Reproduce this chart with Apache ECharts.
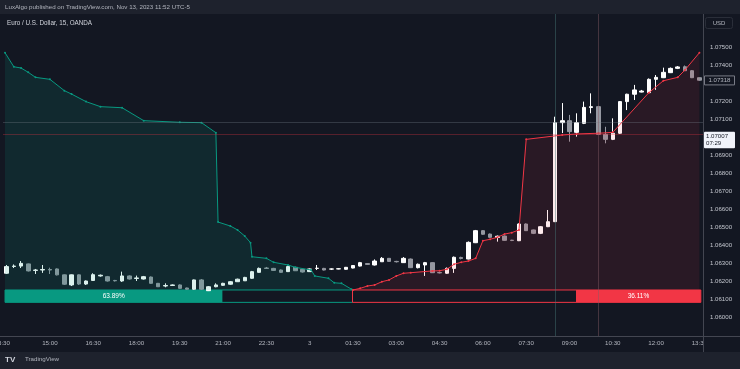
<!DOCTYPE html>
<html><head><meta charset="utf-8">
<script src="https://cdn.jsdelivr.net/npm/echarts@6/dist/echarts.min.js"></script>
<style>html,body{margin:0;padding:0;background:#1e222d;}#c{width:740px;height:369px;}</style>
</head><body><div id="c"></div>
<script>
// ---- data ----
const tickLabels = ['15:00','16:30','18:00','19:30','21:00','22:30','3','01:30','03:00','04:30','06:00','07:30','09:00','10:30','12:00','13:30'];
const priceTicks = [1.060,1.061,1.062,1.063,1.064,1.065,1.066,1.067,1.068,1.069,1.070,1.071,1.072,1.073,1.074,1.075];
// [open, close, low, high]
const candles = [
[1.06245,1.06282,1.06241,1.06291],[1.06283,1.06285,1.06274,1.06294],[1.06285,1.06300,1.06274,1.06313],[1.06297,1.06258,1.06255,1.06299],
[1.06261,1.06263,1.06241,1.06269],[1.06263,1.06266,1.06247,1.06291],[1.06266,1.06263,1.06241,1.06276],[1.06269,1.06236,1.06233,1.06272],
[1.06236,1.06184,1.06180,1.06238],[1.06180,1.06236,1.06174,1.06238],[1.06236,1.06185,1.06180,1.06238],[1.06185,1.06202,1.06180,1.06205],
[1.06205,1.06237,1.06202,1.06245],[1.06230,1.06234,1.06226,1.06238],[1.06226,1.06202,1.06199,1.06230],[1.06205,1.06203,1.06199,1.06208],
[1.06202,1.06230,1.06197,1.06254],[1.06230,1.06213,1.06210,1.06233],[1.06216,1.06219,1.06202,1.06232],[1.06213,1.06226,1.06210,1.06230],
[1.06224,1.06189,1.06187,1.06227],[1.06189,1.06170,1.06169,1.06191],[1.06174,1.06177,1.06167,1.06189],[1.06177,1.06180,1.06174,1.06183],
[1.06180,1.06161,1.06159,1.06183],[1.06163,1.06156,1.06153,1.06165],[1.06156,1.06208,1.06152,1.06210],[1.06208,1.06156,1.06152,1.06213],
[1.06148,1.06170,1.06146,1.06174],[1.06170,1.06180,1.06167,1.06189],[1.06178,1.06189,1.06175,1.06192],[1.06184,1.06198,1.06181,1.06202],
[1.06198,1.06212,1.06197,1.06215],[1.06203,1.06222,1.06202,1.06225],[1.06217,1.06254,1.06214,1.06258],[1.06250,1.06272,1.06248,1.06277],
[1.06274,1.06272,1.06269,1.06280],[1.06272,1.06261,1.06258,1.06275],[1.06263,1.06250,1.06248,1.06266],[1.06254,1.06282,1.06252,1.06288],
[1.06278,1.06259,1.06258,1.06280],[1.06267,1.06252,1.06249,1.06269],[1.06254,1.06269,1.06252,1.06272],[1.06272,1.06273,1.06263,1.06291],
[1.06272,1.06263,1.06261,1.06275],[1.06268,1.06269,1.06263,1.06272],[1.06269,1.06270,1.06267,1.06274],[1.06267,1.06278,1.06265,1.06280],
[1.06274,1.06288,1.06272,1.06291],[1.06285,1.06304,1.06283,1.06308],[1.06299,1.06294,1.06291,1.06302],[1.06291,1.06313,1.06288,1.06322],
[1.06309,1.06328,1.06308,1.06335],[1.06328,1.06311,1.06309,1.06330],[1.06311,1.06309,1.06305,1.06314],[1.06304,1.06328,1.06302,1.06335],
[1.06324,1.06276,1.06274,1.06327],[1.06276,1.06295,1.06272,1.06299],[1.06291,1.06304,1.06230,1.06308],[1.06304,1.06248,1.06247,1.06306],
[1.06249,1.06247,1.06244,1.06252],[1.06245,1.06272,1.06242,1.06277],[1.06272,1.06334,1.06247,1.06338],[1.06333,1.06327,1.06322,1.06337],
[1.06324,1.06417,1.06322,1.06422],[1.06415,1.06482,1.06413,1.06486],[1.06482,1.06462,1.06459,1.06485],[1.06463,1.06445,1.06442,1.06466],
[1.06444,1.06451,1.06421,1.06455],[1.06452,1.06428,1.06426,1.06455],[1.06429,1.06427,1.06424,1.06431],[1.06426,1.06519,1.06424,1.06522],
[1.06519,1.06482,1.06480,1.06522],[1.06486,1.06467,1.06463,1.06488],[1.06467,1.06504,1.06463,1.06508],[1.06504,1.06532,1.06502,1.06597],
[1.06532,1.07083,1.06530,1.07116],[1.07083,1.07094,1.07025,1.07192],[1.07094,1.07033,1.06977,1.07126],[1.07029,1.07083,1.07005,1.07135],
[1.07079,1.07168,1.07075,1.07200],[1.07167,1.07172,1.07135,1.07246],[1.07172,1.07018,1.07014,1.07176],[1.07018,1.06990,1.06968,1.07060],
[1.06990,1.07024,1.06986,1.07107],[1.07024,1.07200,1.07020,1.07203],[1.07200,1.07241,1.07153,1.07244],[1.07241,1.07265,1.07209,1.07293],
[1.07253,1.07259,1.07251,1.07265],[1.07250,1.07324,1.07248,1.07329],[1.07324,1.07335,1.07265,1.07348],[1.07333,1.07363,1.07331,1.07389],
[1.07361,1.07385,1.07359,1.07390],[1.07385,1.07393,1.07381,1.07398],[1.07394,1.07372,1.07370,1.07401],[1.07372,1.07333,1.07331,1.07376],
[1.07333,1.07319,1.07316,1.07334]
];
// [bar index, price]
const bullLine = [
[-0.22,1.07472],[1,1.07394],[2,1.07387],[3,1.07363],[4,1.07335],[6,1.07324],[8,1.07261],[9,1.07242],[11,1.07200],[13,1.07172],
[16,1.07166],[19,1.07094],[24,1.07085],[27,1.07083],[29,1.07027],[29.3,1.06530],[31,1.06508],[32,1.06486],[33,1.06452],[33.8,1.06415],
[34,1.06337],[36,1.06328],[37,1.06306],[39,1.06291],[40,1.06278],[42.2,1.06263],[42.7,1.06230],[44.6,1.06217],[45.4,1.06192],[46.4,1.06189],[47.8,1.06156]
];
const bearLine = [
[48,1.06152],[49,1.06161],[50,1.06174],[51,1.06180],[52,1.06198],[53,1.06208],[54,1.06230],[55,1.06245],[56,1.06248],[59,1.06258],
[60,1.06259],[61,1.06267],[62,1.06295],[63,1.06306],[64,1.06313],[65,1.06328],[66,1.06426],[67,1.06434],[68,1.06445],[69,1.06463],
[70,1.06471],[71,1.06486],[72,1.06990],[77,1.07014],[79,1.07020],[82,1.07024],[84,1.07029],[89,1.07250],[91,1.07316],[93,1.07335],
[94,1.07376],[96,1.07472]
];
const zoneTop = 1.06152, zoneBottom = 1.06083;
const bullBox = [-0.22, 47.93], bullFillEnd = 29.9, bullPct = '63.89%';
const bearBox = [47.93, 96.2], bearFillStart = 78.9, bearPct = '36.11%';
const hLines = {grey: 1.07087, red: 1.07018};
const vLines = [76, 82.05];
const lastPrice = 1.07318, markPrice = 1.07007, countdown = '07:29';

const FONT = 'Liberation Sans';
const BG = '#131722';
const chart = echarts.init(document.getElementById('c'));
const idx = candles.map((_, i) => String(i));

chart.setOption({
  animation: false,
  backgroundColor: '#1e222d',
  textStyle: {fontFamily: FONT},
  grid: {left: 3, right: 37, top: 14, bottom: 33, containLabel: false, outerBoundsMode: 'none'},
  xAxis: [{
    type: 'category', data: idx, boundaryGap: true, gridIndex: 0,
    axisLine: {show: false}, axisTick: {show: false}, splitLine: {show: false},
    axisLabel: {
      interval: (i) => i > 0 && i % 6 === 0,
      formatter: (v, i) => tickLabels[i / 6 - 1] || '',
      color: '#b2b5be', fontSize: 6.2, margin: 4
    }
  }, {
    type: 'value', min: -0.5, max: candles.length - 0.5, show: false, gridIndex: 0
  }],
  yAxis: [{
    type: 'value', position: 'right', min: 1.058959, max: 1.076875, scale: true,
    axisLine: {show: false}, axisTick: {show: false}, splitLine: {show: false},
    axisLabel: {customValues: priceTicks, formatter: (v) => v.toFixed(5), color: '#c4c7cf', fontSize: 6.1, margin: 7, align: 'left'}
  }],
  series: [{
    type: 'candlestick', xAxisIndex: 0, yAxisIndex: 0, z: 2, barWidth: 4,
    data: candles,
    itemStyle: {color: '#ffffff', color0: '#9598a1', borderColor: '#ffffff', borderColor0: '#9598a1', borderWidth: 1}
  }, {
    type: 'line', xAxisIndex: 1, yAxisIndex: 0, z: 3, data: bullLine,
    symbol: 'circle', symbolSize: 2, showSymbol: true,
    lineStyle: {color: '#089981', width: 1}, itemStyle: {color: '#089981'},
    areaStyle: {origin: zoneTop, color: 'rgba(8,153,129,0.2)'},
    markArea: {
      silent: true,
      data: [
        [{coord: [bullBox[0], zoneTop], itemStyle: {color: 'rgba(0,0,0,0)', borderColor: '#089981', borderWidth: 1}}, {coord: [bullBox[1], zoneBottom]}],
        [{coord: [bullBox[0], zoneTop], itemStyle: {color: '#089981'}, label: {show: true, position: 'inside', formatter: bullPct, color: '#ffffff', fontSize: 6.5}}, {coord: [bullFillEnd, zoneBottom]}]
      ]
    },
    markLine: {
      silent: true, symbol: 'none', precision: 6, label: {show: false},
      data: [
        {yAxis: hLines.grey, lineStyle: {color: 'rgba(120,130,140,0.32)', width: 1, type: 'solid'}},
        {xAxis: vLines[0], lineStyle: {color: 'rgba(70,120,120,0.45)', width: 1, type: 'solid'}}
      ]
    }
  }, {
    type: 'line', xAxisIndex: 1, yAxisIndex: 0, z: 3, data: bearLine,
    symbol: 'circle', symbolSize: 2, showSymbol: true,
    lineStyle: {color: '#f23645', width: 1}, itemStyle: {color: '#f23645'},
    areaStyle: {origin: zoneTop, color: 'rgba(242,54,69,0.14)'},
    markArea: {
      silent: true,
      data: [
        [{coord: [bearBox[0], zoneTop], itemStyle: {color: 'rgba(0,0,0,0)', borderColor: '#f23645', borderWidth: 1}}, {coord: [bearBox[1], zoneBottom]}],
        [{coord: [bearFillStart, zoneTop], itemStyle: {color: '#f23645'}, label: {show: true, position: 'inside', formatter: bearPct, color: '#ffffff', fontSize: 6.5}}, {coord: [bearBox[1], zoneBottom]}]
      ]
    },
    markLine: {
      silent: true, symbol: 'none', precision: 6, label: {show: false},
      data: [
        {yAxis: hLines.red, lineStyle: {color: 'rgba(242,54,69,0.3)', width: 1, type: 'solid'}},
        {xAxis: vLines[1], lineStyle: {color: 'rgba(130,90,100,0.45)', width: 1, type: 'solid'}}
      ]
    }
  }]
});

const yLast = chart.convertToPixel({yAxisIndex: 0}, lastPrice);
const yMark = chart.convertToPixel({yAxisIndex: 0}, markPrice);
const sep = '#434651';
chart.setOption({
  graphic: [
    {type: 'rect', z: -100, silent: true, shape: {x: 0, y: 14, width: 740, height: 338}, style: {fill: BG}},
    {type: 'rect', z: 50, silent: true, shape: {x: 704, y: 337, width: 36, height: 14}, style: {fill: BG}},
    {type: 'line', z: 60, silent: true, shape: {x1: 0, y1: 336.5, x2: 740, y2: 336.5}, style: {stroke: sep, lineWidth: 1}},
    {type: 'line', z: 60, silent: true, shape: {x1: 703.5, y1: 14, x2: 703.5, y2: 352}, style: {stroke: sep, lineWidth: 1}},
    {type: 'text', z: 60, silent: true, x: 10, y: 343, style: {text: '13:30', fill: '#b2b5be', font: '6.2px "Liberation Sans"', textAlign: 'right', textVerticalAlign: 'middle'}},
    {type: 'text', z: 60, silent: true, x: 5, y: 7.5, style: {text: 'LuxAlgo published on TradingView.com, Nov 13, 2023 11:52 UTC-5', fill: '#b2b5be', font: '6.2px "Liberation Sans"', textVerticalAlign: 'middle'}},
    {type: 'text', z: 60, silent: true, x: 7, y: 23, style: {text: 'Euro / U.S. Dollar, 15, OANDA', fill: '#d1d4dc', font: '6.3px "Liberation Sans"', textVerticalAlign: 'middle'}},
    {type: 'rect', z: 60, silent: true, shape: {x: 705.5, y: 17.5, width: 27, height: 11, r: 2}, style: {fill: BG, stroke: '#2a2e39', lineWidth: 1}},
    {type: 'text', z: 61, silent: true, x: 719, y: 23, style: {text: 'USD', fill: '#b2b5be', font: '6px "Liberation Sans"', textAlign: 'center', textVerticalAlign: 'middle'}},
    {type: 'rect', z: 60, silent: true, shape: {x: 704.5, y: yLast - 4.5, width: 30, height: 9}, style: {fill: BG, stroke: '#787b86', lineWidth: 1}},
    {type: 'text', z: 61, silent: true, x: 719.5, y: yLast, style: {text: lastPrice.toFixed(5), fill: '#b2b5be', font: '6.1px "Liberation Sans"', textAlign: 'center', textVerticalAlign: 'middle'}},
    {type: 'rect', z: 60, silent: true, shape: {x: 704, y: yMark - 4.5, width: 31, height: 16.5, r: 1}, style: {fill: '#f0f3fa'}},
    {type: 'text', z: 61, silent: true, x: 706, y: yMark, style: {text: markPrice.toFixed(5), fill: '#131722', font: '6.1px "Liberation Sans"', textVerticalAlign: 'middle'}},
    {type: 'text', z: 61, silent: true, x: 706, y: yMark + 7.5, style: {text: countdown, fill: '#131722', font: '6.1px "Liberation Sans"', textVerticalAlign: 'middle'}},
    {type: 'text', z: 60, silent: true, x: 5, y: 359.5, style: {text: 'TV', fill: '#d1d4dc', font: 'bold 8px "Liberation Sans"', textVerticalAlign: 'middle'}},
    {type: 'text', z: 60, silent: true, x: 25, y: 359.5, style: {text: 'TradingView', fill: '#b2b5be', font: '6.2px "Liberation Sans"', textVerticalAlign: 'middle'}}
  ]
});
</script>
</body></html>
